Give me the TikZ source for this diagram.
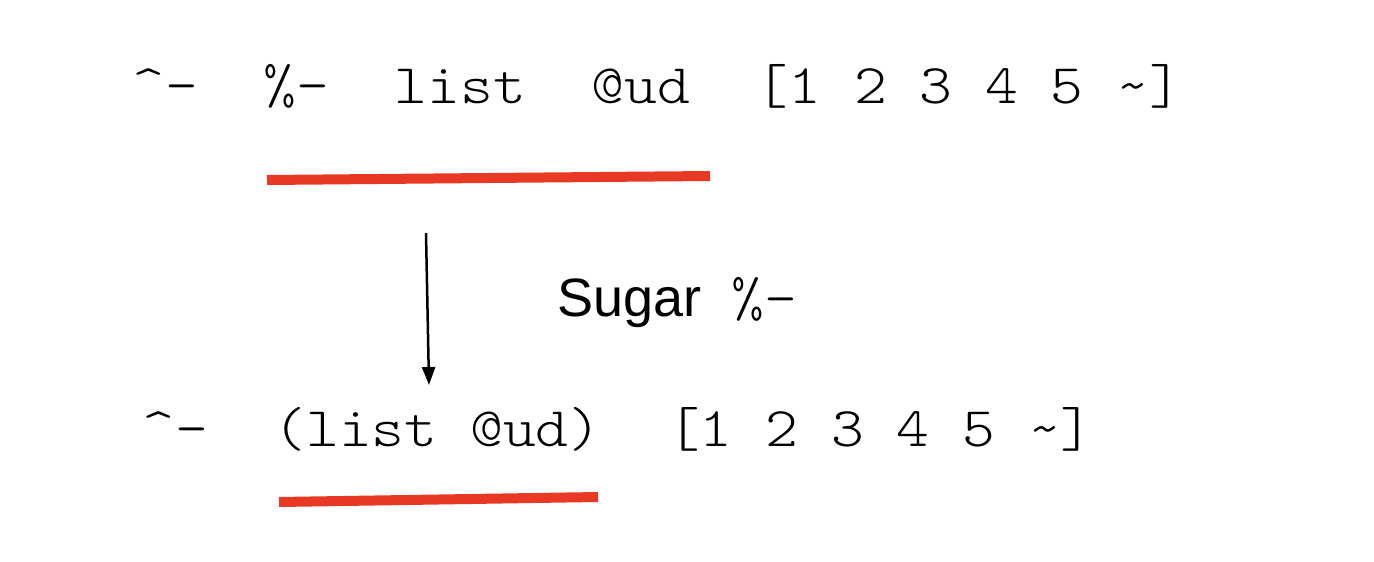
\documentclass[tikz,border=0pt]{standalone}
\usepackage{fontspec}
\usepackage{graphicx}
\setsansfont{Liberation Sans}
\setmonofont{Latin Modern Mono Light}
\usetikzlibrary{arrows.meta}
\definecolor{hlred}{RGB}{232,57,37}
\tikzset{
  mono/.style={font=\ttfamily\fontsize{56}{60}\selectfont, inner sep=0pt, anchor=base west},
  label/.style={font=\sffamily\fontsize{54}{60}\selectfont, inner sep=0pt, anchor=base west},
  hl/.style={draw=hlred, line width=10pt, line cap=butt},
  conn/.style={draw=black, line width=2.5pt, -{Triangle[length=18pt,width=13pt]}}
}
\newcommand{\mx}[1]{\scalebox{1.116}[1]{#1}}
\begin{document}
\begin{tikzpicture}[x=1pt,y=-1pt]
\useasboundingbox (0,0) rectangle (1374,562);
\node[mono] (top) at (132,103) {\mx{\textasciicircum-\ \ \%-\ \ list\ \ @ud\ \ [1 2 3 4 5 \textasciitilde]}};
\node[mono] (bot) at (142,446) {\mx{\textasciicircum-\ \ (list @ud)\ \ [1 2 3 4 5 \textasciitilde]}};
\node[label] (sugar) at (557,316) {Sugar};
\node[mono] (pct) at (731,316) {\mx{\%-}};
\coordinate (r1a) at (267,180);
\coordinate (r1b) at (710,176);
\coordinate (r2a) at (279,502);
\coordinate (r2b) at (598,497);
\coordinate (a1) at (426,233);
\coordinate (a2) at (429,385);
\draw[hl] (r1a) -- (r1b);
\draw[hl] (r2a) -- (r2b);
\draw[conn] (a1) -- (a2);
\end{tikzpicture}
\end{document}
